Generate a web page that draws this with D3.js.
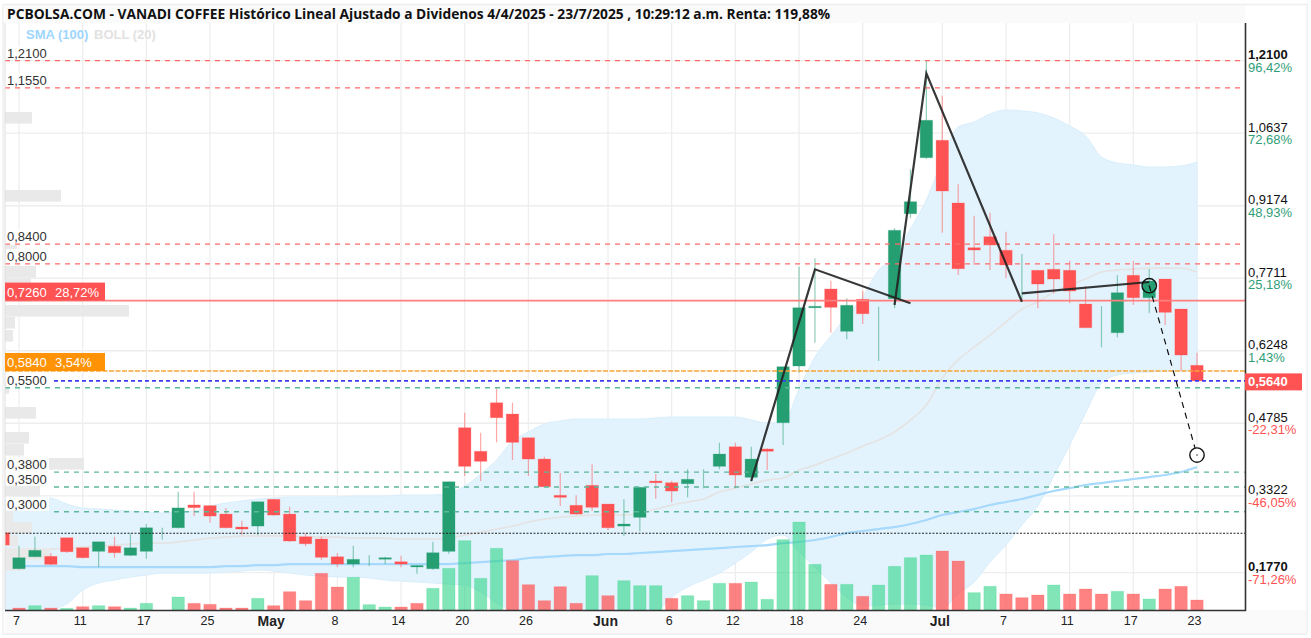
<!DOCTYPE html>
<meta charset="UTF-8">
<style>
body { margin: 0; background: #fff; }
text { font-family: "Liberation Sans", Arial, sans-serif; font-size: 13px; }
.title { font-family: "Open Sans", sans-serif; font-weight: 700; font-size: 13.75px; fill: #111; }
.grid { stroke: #eeeeee; stroke-width: 1.3px; }
.wick { stroke-width: 1.2px; stroke-opacity: .5; }
.body { stroke-width: 1px; stroke-opacity: .25; }
.vol { stroke-width: 1px; stroke-opacity: .2; }
.axis path, .axis line { display: none; }
.drawing { stroke: #222; stroke-width: 2.2px; fill: none; stroke-opacity: .9; }
</style>
<svg width="1311" height="638"></svg>
<script src="https://d3js.org/d3.v7.min.js"></script>
<script>
var titleText = "PCBOLSA.COM - VANADI COFFEE Histórico Lineal Ajustado a Dividenos 4/4/2025 - 23/7/2025 , 10:29:12 a.m. Renta: 119,88%";

// candles, one entry per session, oldest first
var open = [.2576,.1850,.2092,.2100,.2475,.2273,.2201,.2302,.2120,.2201,.2564,.2677,.3137,.3123,.2953,.2691,.2711,.3250,.2953,.2495,.2449,.2092,.1944,.1938,.2051,.1991,.1898,.1850,
.2201,.4695,.4219,.5199,.4971,.4493,.4063,.3331,.3129,.3532,.3155,.2711,.2887,.3619,.3585,.3565,.3831,.3916,.4311,.3694,.4265,.4796,.5940,.7116,.7494,.6640,.7286,.7136,.7298,.9013,1.0143,
1.0494,.9229,.8327,.8549,.8275,.7413,.7871,.7891,.7871,.7191,.7151,.6612,.7770,.7318,.7695,.7090,.5954];
var close = [.2328,.2072,.2221,.1938,.2193,.2072,.2394,.2173,.2273,.2677,.2564,.3077,.3083,.2913,.2677,.2651,.3202,.2933,.2409,.2354,.2080,.1944,.2039,.1938,.2072,.1944,.1916,.2173,
.3605,.3916,.4017,.4897,.4400,.4063,.3504,.3290,.2953,.3089,.2677,.2752,.3492,.3585,.3417,.3654,.3831,.4164,.3740,.4063,.4219,.5926,.7116,.7145,.7124,.7165,.6995,.7136,.8678,.9255,1.0898,
.9471,.7903,.8280,.8381,.7978,.7413,.7594,.7695,.7453,.6713,.7151,.7419,.7318,.7655,.7023,.6162,.5640];
var high = [.2691,.2314,.2495,.2166,.2475,.2273,.2394,.2495,.2564,.2752,.2677,.3403,.3403,.3123,.3077,.2818,.3202,.3250,.3103,.2564,.2495,.2166,.2314,.2120,.2086,.2112,.1924,.2394,
.3605,.4998,.4594,.5490,.5199,.4493,.4109,.3781,.3331,.3956,.3155,.3250,.3492,.3760,.3625,.3856,.3856,.4392,.4392,.4311,.4279,.5926,.7944,.8113,.7661,.7306,.7459,.7136,.8718,.9909,1.2100,
1.1394,.9606,.8973,.9033,.8650,.8200,.7871,.8597,.8065,.7554,.7151,.7776,.8065,.7897,.7695,.7090,.6208];
var low = [.2288,.1838,.2080,.1924,.2173,.2060,.1884,.2072,.2106,.2051,.2435,.2665,.2913,.2780,.2665,.2530,.2530,.2919,.2389,.2302,.2032,.1878,.1878,.1904,.1944,.1878,.1749,.1830,
.2152,.3720,.3619,.4400,.4043,.3720,.3504,.3115,.2939,.3014,.2625,.2510,.2604,.3262,.3190,.3290,.3472,.3856,.3472,.3605,.3842,.4346,.5805,.6410,.6612,.6479,.6787,.6041,.7104,.8920,1.0117,
.8629,.7776,.7978,.7877,.7709,.7237,.7104,.7407,.7205,.6701,.6317,.6519,.7171,.7003,.6767,.5845,.5640];
var volume = [0,6,13,6,5,10,13,10,6,20,0,39,20,17,6,6,35,13,55,28,110,69,98,16,9,9,20,65,
125,208,95,185,148,76,28,70,20,103,43,88,73,73,35,43,28,80,80,84,32,211,264,137,77,77,41,75,131,157,165,
177,147,52,71,48,37,45,75,48,63,48,56,48,33,63,71,30];
// volume colour does not always follow the candle
var volumeUp = [0,0,1,0,1,0,1,0,1,1,0,1,0,0,0,0,1,0,0,0,0,0,1,1,1,0,0,1,
1,1,1,1,0,0,0,0,0,1,0,1,1,1,0,1,1,1,0,1,1,1,1,1,0,1,0,1,1,1,1,
0,0,1,1,0,0,0,1,0,0,0,1,0,1,0,0,0];

var bollUpper = [.3236,.3297,.3297,.3276,.3155,.3075,.3054,.3034,.3014,.2994,.2974,.2994,.3014,.3115,.3175,.3216,.3256,.3276,.3297,.3297,.3297,.3297,.3317,.3317,.3317,.3337,.3337,.3337,
.3377,.3518,.3761,.4043,.4427,.4608,.4769,.4830,.4870,.4870,.4870,.4870,.4870,.4891,.4911,.4911,.4911,.4911,.4911,.4850,.4790,.4790,.5476,.6121,.6545,.6949,.7332,.7877,.8119,.8704,.9289,
1.0096,1.0762,1.0863,1.1025,1.1105,1.1085,1.1045,1.0944,1.0783,1.0581,1.0157,1.0036,.9996,.9955,.9955,.9975,1.0056];
var bollLower = [.0411,.0714,.0855,.1017,.1138,.1420,.1561,.1622,.1682,.1723,.1763,.1763,.1763,.1763,.1783,.1803,.1824,.1803,.1763,.1723,.1703,.1682,.1682,.1662,.1622,.1601,.1581,.1561,
.1541,.1521,.1380,.1158,.0976,.0714,.0512,.0411,.0411,.0411,.0411,.0512,.0714,.0936,.1279,.1481,.1622,.1763,.1965,.2187,.2449,.2530,.2187,.1884,.1561,.1279,.1097,.1117,.1138,.1138,.1117,
.1057,.1340,.1581,.1985,.2328,.2732,.3115,.3720,.4346,.4991,.5597,.5758,.5799,.5819,.5839,.5839,.5859];
var bollMiddle = [.2187,.2207,.2227,.2247,.2267,.2288,.2308,.2328,.2348,.2368,.2368,.2389,.2429,.2469,.2490,.2510,.2510,.2510,.2510,.2490,.2490,.2490,.2469,.2469,.2469,.2449,.2449,.2449,
.2469,.2530,.2590,.2651,.2711,.2792,.2853,.2893,.2913,.2933,.2933,.2933,.2974,.3054,.3135,.3196,.3256,.3398,.3478,.3559,.3640,.3680,.3841,.3942,.4063,.4184,.4325,.4447,.4608,.4850,.5153,
.5698,.6061,.6323,.6565,.6828,.7090,.7231,.7433,.7574,.7695,.7837,.7877,.7897,.7917,.7917,.7917,.7837];
var sma100 = [.1904,.1904,.1904,.1904,.1904,.1884,.1884,.1884,.1884,.1884,.1884,.1884,.1884,.1884,.1904,.1904,.1924,.1924,.1945,.1945,.1945,.1945,.1945,.1945,.1945,.1945,.1945,.1945,
.1945,.1965,.1985,.2005,.2025,.2066,.2086,.2106,.2126,.2126,.2147,.2147,.2167,.2187,.2207,.2227,.2247,.2267,.2288,.2308,.2328,.2368,.2389,.2429,.2490,.2570,.2611,.2651,.2691,.2752,.2833,
.2933,.2994,.3054,.3135,.3196,.3256,.3337,.3418,.3478,.3539,.3579,.3620,.3660,.3700,.3741,.3801,.3902];

// volume profile on the left edge
var profilePrice = [1.0944,.9370,.8260,.7837,.7595,.7352,.7050,.6808,.6545,.5496,.4992,.4487,.4245,.3963,.3418,.2893,.2671,.2409,.2147,.1924];
var profileVol = [27,56,12,31,26,26,124,10,8,4,31,24,19,79,35,8,27,13,45,20];

// price levels marked on the chart
var redLevels = [1.21,1.155,.84,.80];
var greenLevels = [.55,.38,.35,.30];
var levelLabels = ["1,2100","1,1550","0,8400","0,8000","0,5500","0,3800","0,3500","0,3000"];
var levelValues = [1.21,1.155,.84,.80,.55,.38,.35,.30];

var priceTicks = [1.21,1.0637,.9174,.7711,.6248,.4785,.3322,.177];
var pctLabels = ["96,42%","72,68%","48,93%","25,18%","1,43%","-22,31%","-46,05%","-71,26%"];

var dateTicks = [1,5,9,13,17,21,25,29,33,38,42,46,50,54,59,63,67,71,75];
var dateLabels = ["7","11","17","25","May","8","14","20","26","Jun","6","12","18","24","Jul","7","11","17","23"];

// hand drawn zigzags: [session, price]
var zigzags = [
  [[47,.3619],[51,.7891],[57,.7205]],
  [[56,.7171],[58,1.1846],[64,.7237]],
  [[64,.7407],[72,.7635]]
];
var projection = [[72,.7560],[75,.4144]];

var GREEN = "#259e72", RED = "#ff5252";
var left = 5, right = 1245, top0 = 23, bottom = 610;

var svg = d3.select("svg");
var x = d3.scaleLinear().domain([0,75]).range([3.08,1197]);
var y = d3.scaleLinear().domain([1.21,.177]).range([60.7,572.7]);
var yVol = d3.scaleLinear().domain([0,264]).range([bottom,522]);
var xProfile = d3.scaleLinear().domain([0,124]).range([left,129]);
var barW = 12.4;
var sessions = d3.range(open.length);

// frame backgrounds
svg.append("rect").attr("x",0).attr("y",0).attr("width",1311).attr("height",638).attr("fill","#fff");
svg.append("rect").attr("x",5).attr("y",5).attr("width",1240).attr("height",18).attr("fill","#fafafa");
svg.append("rect").attr("x",5).attr("y",bottom).attr("width",1301).attr("height",24).attr("fill","#fafafa");
svg.append("path").attr("d","M3,4.5H1307V634M3,4.5V634H1307").attr("fill","none").attr("stroke","#eee").attr("stroke-width",1.4);

svg.append("clipPath").attr("id","plot").append("rect")
  .attr("x",left).attr("y",top0).attr("width",right-left).attr("height",bottom-top0);
var plot = svg.append("g").attr("clip-path","url(#plot)");

// grid
plot.selectAll("line.gy").data(priceTicks).enter().append("line").attr("class","grid")
  .attr("x1",left).attr("x2",right).attr("y1",d=>y(d)).attr("y2",d=>y(d));
plot.selectAll("line.gx").data(dateTicks).enter().append("line").attr("class","grid")
  .attr("x1",d=>x(d)).attr("x2",d=>x(d)).attr("y1",top0).attr("y2",bottom);

// bollinger band
var band = d3.area().x(i=>x(i)).y0(i=>y(bollLower[i])).y1(i=>y(bollUpper[i])).curve(d3.curveMonotoneX);
plot.append("path").attr("d",band(sessions)).attr("fill","#e1f2fd").attr("fill-opacity",.95).attr("stroke","#d8eefc").attr("stroke-width",1);
var lineOf = s => d3.line().x((d,i)=>x(i)).y(d=>y(d)).curve(d3.curveMonotoneX)(s);
plot.append("path").attr("d",lineOf(bollMiddle)).attr("fill","none").attr("stroke","#e4e4e4").attr("stroke-width",1.8);
plot.append("path").attr("d",lineOf(sma100)).attr("fill","none").attr("stroke","#a6d9fc").attr("stroke-width",2.2);

// volume profile
plot.selectAll("rect.prof").data(profilePrice).enter().append("rect")
  .attr("x",left).attr("y",d=>y(d)-6).attr("height",11.6)
  .attr("width",(d,i)=>xProfile(profileVol[i])-left).attr("fill","#e9e9e9");

// volume
plot.selectAll("rect.vol").data(sessions.filter(i=>volume[i]>0)).enter().append("rect").attr("class","vol")
  .attr("x",i=>x(i)-barW/2).attr("width",barW)
  .attr("y",i=>yVol(volume[i])).attr("height",i=>bottom-yVol(volume[i]))
  .attr("fill",i=>volumeUp[i]?"#27d283":RED)
  .attr("fill-opacity",i=>volumeUp[i]?.58:.72)
  .attr("stroke",i=>volumeUp[i]?"#27d283":RED);

// candles
var candles = plot.selectAll("g.candle").data(sessions).enter().append("g");
candles.append("line").attr("class","wick")
  .attr("x1",i=>x(i)).attr("x2",i=>x(i)).attr("y1",i=>y(high[i])).attr("y2",i=>y(low[i]))
  .attr("stroke",i=>close[i]>=open[i]?GREEN:RED);
// sessions with open == close show the wick only
candles.filter(i=>open[i]!=close[i]).append("rect").attr("class","body")
  .attr("x",i=>x(i)-barW/2).attr("width",barW)
  .attr("y",i=>y(Math.max(open[i],close[i])))
  .attr("height",i=>Math.max(1.5,Math.abs(y(open[i])-y(close[i]))))
  .attr("fill",i=>close[i]>=open[i]?GREEN:RED)
  .attr("stroke",i=>close[i]>=open[i]?GREEN:RED);

// level lines
function level(v, colour, x1, dash, w) {
  svg.append("line").attr("x1",x1).attr("x2",right).attr("y1",y(v)).attr("y2",y(v))
    .attr("stroke",colour).attr("stroke-width",w||1.3).attr("stroke-dasharray",dash);
}
redLevels.forEach(v => level(v,"#ff6b6b",left,"5,5"));
level(.726,"#ff7f7f",left,null,1.6);
level(.584,"#f8a534",left,"5,1.5",1.5);
level(.564,"#3c3cf5",54,"4,3",1.6);
greenLevels.forEach(v => level(v,"#5cb89a",v==.55?left:54,"5,5",1.4));
level(.2566,"#222",left,"2,1.5",1);

// drawings
var drawLine = d3.line().x(d=>x(d[0])).y(d=>y(d[1]));
zigzags.forEach(z => svg.append("path").attr("class","drawing").attr("d",drawLine(z)));
svg.append("path").attr("d",drawLine(projection)).attr("fill","none").attr("stroke","#111")
  .attr("stroke-width",1.2).attr("stroke-dasharray","6,5");
projection.forEach(p => {
  svg.append("circle").attr("cx",x(p[0])).attr("cy",y(p[1])).attr("r",7.2)
    .attr("fill",p[0]==75?"#fff":"none").attr("stroke","#111").attr("stroke-width",1.4);
  svg.append("circle").attr("cx",x(p[0])).attr("cy",y(p[1])).attr("r",.8).attr("fill","#333");
});

// frame lines
svg.append("line").attr("x1",left).attr("x2",left).attr("y1",top0).attr("y2",bottom).attr("stroke","#ddd");
svg.append("line").attr("x1",right+.5).attr("x2",right+.5).attr("y1",top0).attr("y2",bottom+1).attr("stroke","#333").attr("stroke-width",1.6);
svg.append("line").attr("x1",left).attr("x2",right+1).attr("y1",bottom+.5).attr("y2",bottom+.5).attr("stroke","#333").attr("stroke-width",1.6);

// title and legend
svg.append("text").attr("class","title").attr("x",7).attr("y",19).text(titleText);
svg.append("text").attr("x",26).attr("y",39).attr("font-weight",700).attr("fill","#9dd6fd").text("SMA (100)");
svg.append("text").attr("x",94).attr("y",39).attr("font-weight",700).attr("fill","#e2e2e2").text("BOLL (20)");

// left labels with a white backing
levelLabels.forEach((t,i) => {
  var ty = y(levelValues[i]) - 3;
  svg.append("rect").attr("x",6).attr("y",ty-12).attr("width",43).attr("height",14).attr("fill","#fff").attr("fill-opacity",.9);
  svg.append("text").attr("x",7).attr("y",ty).attr("fill","#333").text(t);
});
[[.726,"#ff5252","0,7260","28,72%"],[.584,"#ff9305","0,5840","3,54%"]].forEach(d => {
  svg.append("rect").attr("x",5).attr("y",y(d[0])-18).attr("width",100).attr("height",18).attr("fill",d[1]);
  svg.append("text").attr("x",7).attr("y",y(d[0])-4).attr("fill","#fff").text(d[2]);
  svg.append("text").attr("x",55).attr("y",y(d[0])-4).attr("fill","#fff").text(d[3]);
});

// price axis
var yAxis = svg.append("g").attr("class","axis").attr("transform","translate(1248,0)")
  .call(d3.axisRight(y).tickValues(priceTicks).tickSize(0).tickPadding(0)
    .tickFormat(d => d3.format(".4f")(d).replace(".",",")));
yAxis.selectAll("text")
  .attr("dy",null).attr("y",-2)
  .attr("fill","#111").attr("font-weight",d=>d==1.21||d==.177?700:400)
  .style("font-size","13px");
svg.selectAll("text.pct").data(priceTicks).enter().append("text").attr("class","pct")
  .attr("x",1248).attr("y",d=>y(d)+11)
  .attr("fill",(d,i)=>pctLabels[i][0]=="-"?"#ff5252":"#2f9e79")
  .text((d,i)=>pctLabels[i]);

// last price tag
svg.append("rect").attr("x",1245).attr("y",y(.564)-7.5).attr("width",57).attr("height",17).attr("fill","#ff5252");
svg.append("text").attr("x",1248).attr("y",y(.564)+5).attr("font-weight",700).attr("fill","#fff").text("0,5640");

// date axis
var xAxis = svg.append("g").attr("class","axis").attr("transform","translate(0,"+bottom+")")
  .call(d3.axisBottom(x).tickValues(dateTicks).tickSize(0).tickPadding(6)
    .tickFormat((d,i)=>dateLabels[i]));
xAxis.selectAll("text")
  .attr("dx",-3).attr("fill","#222")
  .attr("font-weight",(d,i)=>isNaN(dateLabels[i])?700:400)
  .style("font-size",(d,i)=>isNaN(dateLabels[i])?"14px":"12.5px");
</script>
